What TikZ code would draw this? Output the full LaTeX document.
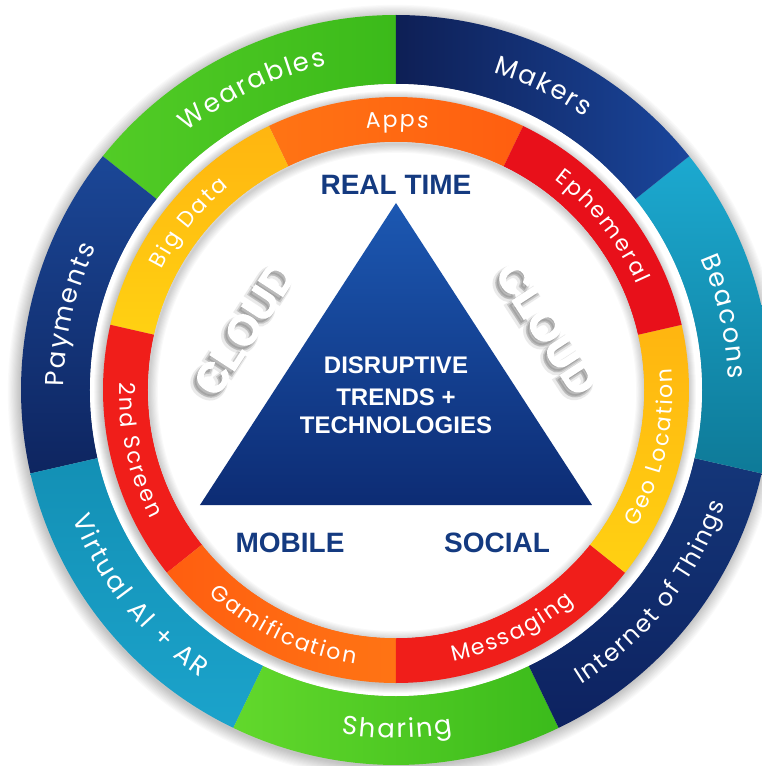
\documentclass[tikz,border=0pt]{standalone}
\usepackage{fontspec}
\usetikzlibrary{decorations.text}
\newfontfamily\popfont{Poppins}
\newfontfamily\boldsans{Liberation Sans Bold}
\newfontfamily\cloudfont[FakeBold=3]{Liberation Sans Bold}
\newfontfamily\cloudshA[FakeBold=16]{Liberation Sans Bold}
\newfontfamily\cloudshB[FakeBold=8]{Liberation Sans Bold}
\definecolor{wearA}{HTML}{52CC26}
\definecolor{wearB}{HTML}{3BBA1A}
\definecolor{makA}{HTML}{0E1F55}
\definecolor{makB}{HTML}{1A469C}
\definecolor{beaA}{HTML}{1CA9D0}
\definecolor{beaB}{HTML}{0E7A98}
\definecolor{iotA}{HTML}{143679}
\definecolor{iotB}{HTML}{0D2260}
\definecolor{shaA}{HTML}{62D82C}
\definecolor{shaB}{HTML}{3BBB1B}
\definecolor{virA}{HTML}{1BA3CB}
\definecolor{virB}{HTML}{1390B5}
\definecolor{payA}{HTML}{1B4797}
\definecolor{payB}{HTML}{0E2560}
\definecolor{orA}{HTML}{FF7414}
\definecolor{orB}{HTML}{FF5E10}
\definecolor{rdA}{HTML}{F01E1A}
\definecolor{rdB}{HTML}{E8101A}
\definecolor{ylA}{HTML}{FFD112}
\definecolor{ylB}{HTML}{FFB510}
\definecolor{triA}{HTML}{1C58B2}
\definecolor{triB}{HTML}{0D2C74}
\definecolor{labnavy}{HTML}{143A80}
\definecolor{cloudgray}{HTML}{6E6E6E}
\newcommand\fO{\popfont\fontsize{26}{26}\selectfont\color{white}\kern2pt}
\newcommand\fOs{\popfont\fontsize{24}{24}\selectfont\color{white}\kern1.6pt}
\newcommand\fI{\popfont\fontsize{22}{22}\selectfont\color{white}\kern2pt}
% annular sector: r1 r2 a1 a2 options
\newcommand\annsec[5]{\path[#5] (#3:#1) arc[start angle=#3,end angle=#4,radius=#1] -- (#4:#2) arc[start angle=#4,end angle=#3,radius=#2] -- cycle;}
% text on arc: radius start end format text
\newcommand\arctext[5]{\path[decorate,decoration={text along path,text align=center,text={|#4|#5}}] (#2:#1) arc[start angle=#2,end angle=#3,radius=#1];}
\tikzset{
  lab/.style={text=labnavy,font=\boldsans\fontsize{28}{28}\selectfont,inner sep=0pt},
  tritext/.style={text=white,font=\boldsans\fontsize{24}{24}\selectfont,inner sep=0pt},
  cloudtxt/.style={font=\cloudfont\fontsize{42}{42}\selectfont\color{white},inner sep=0pt},
  cloudshadowA/.style={opacity=0.14,font=\cloudshA\fontsize{42}{42}\selectfont\color{cloudgray},inner sep=0pt},
  cloudshadowB/.style={opacity=0.28,font=\cloudshB\fontsize{42}{42}\selectfont\color{cloudgray},inner sep=0pt}
}
\begin{document}
\begin{tikzpicture}[x=1pt,y=1pt]
\useasboundingbox (-396,-376) rectangle (366,390);
\clip (-396,-376) rectangle (366,390);
\fill[white] (-396,-376) rectangle (366,390);
% outer glow
\foreach \k in {1,...,12} \fill[black,opacity=0.018] (-1,-2) circle (374+\k*1.1);
% outer ring
\annsec{306}{375}{90}{141.43}{left color=wearA,right color=wearB}
\annsec{306}{375}{141.43}{192.86}{top color=payA,bottom color=payB}
\annsec{306}{375}{192.86}{244.29}{top color=virB,bottom color=virA}
\annsec{306}{375}{244.29}{295.71}{left color=shaA,right color=shaB}
\annsec{306}{375}{295.71}{347.14}{top color=iotA,bottom color=iotB}
\annsec{306}{375}{347.14}{398.57}{top color=beaA,bottom color=beaB}
\annsec{306}{375}{38.57}{90}{left color=makA,right color=makB}
% gap shadow
\fill[white] (0,0) circle (306);
\foreach \k in {1,...,9} \fill[black,opacity=0.028] (-1,-2) circle (292+\k);
% inner ring
\annsec{248}{293}{64.29}{115.71}{left color=orA,right color=orB}
\annsec{248}{293}{115.71}{167.14}{top color=ylB,bottom color=ylA}
\annsec{248}{293}{167.14}{218.57}{fill=rdA}
\annsec{248}{293}{218.57}{270}{left color=orB,right color=orA}
\annsec{248}{293}{270}{321.43}{fill=rdA}
\annsec{248}{293}{321.43}{372.86}{top color=ylB,bottom color=ylA}
\annsec{248}{293}{12.86}{64.29}{fill=rdB}
% inner disk with inner shadow
\fill[white] (0,0) circle (248);
\begin{scope}
\clip (0,0) circle (248);
\foreach \k in {1,...,8} \draw[black,opacity=0.022,line width=\k*2.2pt] (1,-2) circle (248);
\end{scope}
% outer labels
\arctext{332}{139.4}{92}{\fO}{Wearables}
\arctext{332}{88}{40.6}{\fO}{Makers}
\arctext{332}{36.6}{-10.9}{\fO}{Beacons}
\arctext{332}{190.9}{143.4}{\fO}{Payments}
\arctext{348}{-62.3}{-14.9}{\fOs}{Internet of Things}
\arctext{348}{246.3}{293.7}{\fO}{Sharing}
\arctext{348}{194.9}{242.3}{\fO}{Virtual AI + AR}
% inner labels
\arctext{263}{113.7}{66.3}{\fI}{Apps}
\arctext{263}{62.3}{14.9}{\fI}{Ephemeral}
\arctext{263}{165.1}{117.7}{\fI}{Big Data}
\arctext{277}{-36.6}{10.9}{\fI}{Geo Location}
\arctext{277}{272}{319.4}{\fI}{Messaging}
\arctext{277}{220.6}{268}{\fI}{Gamification}
\arctext{277}{169.1}{216.6}{\fI}{2nd Screen}
% triangle
\shade[top color=triA,bottom color=triB] (0,187) -- (-196,-115) -- (196,-115) -- cycle;
\node[tritext] (t1) at (0,25) {DISRUPTIVE};
\node[tritext] (t2) at (0,-7) {TRENDS +};
\node[tritext] (t3) at (0,-35) {TECHNOLOGIES};
\node[lab] (rt) at (0,205) {REAL TIME};
\node[lab] (mob) at (-106,-153) {MOBILE};
\node[lab] (soc) at (101,-153) {SOCIAL};
% cloud texts with soft shadow
\node[cloudshadowA,rotate=57] (clsA) at (-155,57) {CLOUD};
\node[cloudshadowB,rotate=57] (clsB) at (-154,58) {CLOUD};
\node[cloudshadowA,rotate=-57] (crsA) at (147,57) {CLOUD};
\node[cloudshadowB,rotate=-57] (crsB) at (148,58) {CLOUD};
\node[cloudtxt,rotate=57] (cloudL) at (-151,62) {CLOUD};
\node[cloudtxt,rotate=-57] (cloudR) at (151,62) {CLOUD};
\end{tikzpicture}
\end{document}
